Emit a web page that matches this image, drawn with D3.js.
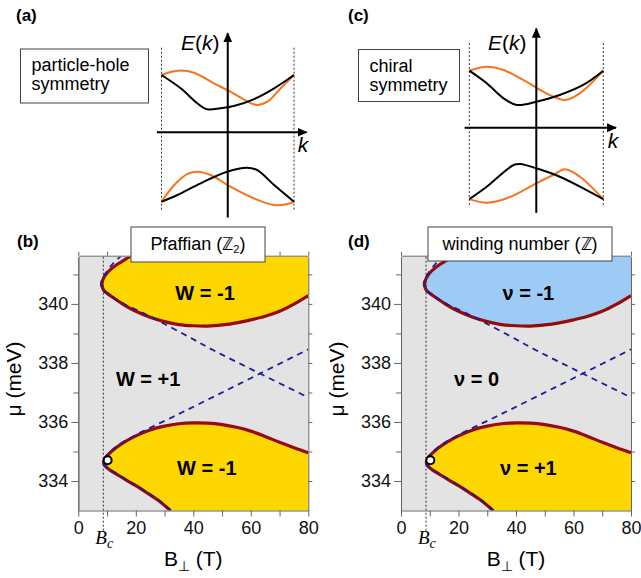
<!DOCTYPE html>
<meta charset="utf-8">
<style>
body { margin: 0; background: #fff; }
svg { display: block; font-family: "Liberation Sans", Arial, Helvetica, sans-serif; }
.axis path, .axis line { stroke: #666; stroke-width: 1; }
.axis text { font-size: 18px; fill: #111; }
</style>
<svg width="641" height="578"></svg>
<script src="https://d3js.org/d3.v7.min.js"></script>
<script>
// ---- data ----
// phase diagram axes
var bTicks = [0, 10, 20, 30, 40, 50, 60, 70, 80];
var bLabels = [0, 20, 40, 60, 80];
var muMajor = [334, 336, 338, 340];
var muMinor = [335, 337, 339, 341];
var bRange = [0, 80], muRange = [333, 341.6];
var Bc = 8.7;
var critPoint = [10.2, 334.7];

// phase boundaries (B in T, mu in meV)
var upperBoundary = [[18.5, 341.65], [16.5, 341.52], [14, 341.37], [12, 341.23], [10, 341.05], [8.7, 340.86],
  [8.2, 340.67], [8.8, 340.47], [10, 340.36], [12, 340.22], [16, 339.96], [20, 339.75], [25, 339.55],
  [30, 339.4], [35, 339.3], [40, 339.26], [45, 339.25], [50, 339.29], [55, 339.36], [60, 339.46],
  [65, 339.58], [70, 339.75], [75, 339.99], [80, 340.28]];
var lowerBoundary = [[32, 333.0], [28, 333.33], [24, 333.59], [20, 333.84], [16, 334.07], [13, 334.25],
  [11, 334.37], [9.6, 334.48], [8.8, 334.63], [9.6, 334.8], [11, 334.95], [13, 335.12], [16, 335.32],
  [20, 335.53], [25, 335.73], [30, 335.86], [35, 335.94], [40, 335.97], [45, 335.96], [50, 335.91],
  [55, 335.82], [60, 335.69], [65, 335.51], [70, 335.31], [75, 335.13], [80, 334.96]];
// dashed (approximate) boundaries
var upperDash = [[15.2, 341.65], [12, 341.36], [9.6, 341.06], [8.3, 340.84], [7.9, 340.68], [8.3, 340.5],
  [10, 340.36], [13, 340.17], [17, 339.94], [22, 339.72], [36.6, 338.98], [48, 338.38], [63.2, 337.64], [80, 336.83]];
var lowerDash = [[32.2, 333.0], [28, 333.35], [24, 333.61], [20, 333.86], [16, 334.09], [13, 334.27],
  [11, 334.39], [9.4, 334.49], [8.5, 334.64], [9.4, 334.82], [11, 334.98], [13, 335.15], [20, 335.56],
  [33.7, 336.21], [48, 336.9], [63.2, 337.64], [80, 338.46]];

// region labels [text, B, mu]
var labelsB = [["W = -1", 44.1, 340.36], ["W = +1", 24.3, 337.45], ["W = -1", 44.7, 334.43]];
var labelsD = [["\u03bd = -1", 44.3, 340.36], ["\u03bd = 0", 26.3, 337.45], ["\u03bd = +1", 44.3, 334.43]];

// schematic bands [k, E]
var aUpperBlack = [[-1, 0.955], [-0.71, 0.733], [-0.46, 0.483], [-0.31, 0.383], [-0.11, 0.4], [0.09, 0.438], [0.39, 0.55], [0.70, 0.733], [1, 0.955]];
var aUpperOrange = [[-1, 0.955], [-0.76, 1.027], [-0.51, 0.993], [-0.21, 0.817], [0.04, 0.677], [0.24, 0.55], [0.44, 0.455], [0.6, 0.51], [0.8, 0.733], [1, 0.955]];
var aLowerBlack = [[-1, -1.157], [-0.76, -1.045], [-0.41, -0.85], [-0.01, -0.657], [0.29, -0.59], [0.44, -0.628], [0.7, -0.878], [1, -1.157]];
var aLowerOrange = [[-1, -1.157], [-0.8, -0.87], [-0.6, -0.69], [-0.46, -0.657], [-0.26, -0.712], [0.04, -0.907], [0.39, -1.1], [0.7, -1.212], [0.9, -1.195], [1, -1.157]];
var cUpperBlack = [[-1, 0.95], [-0.74, 0.74], [-0.49, 0.49], [-0.29, 0.38], [0.0, 0.433], [0.35, 0.545], [0.70, 0.712], [1, 0.95]];
var cUpperOrange = [[-1, 0.95], [-0.74, 1.017], [-0.49, 0.962], [-0.15, 0.767], [0.15, 0.573], [0.43, 0.462], [0.65, 0.573], [1, 0.95]];
var cLowerBlack = [[-1, -1.19], [-0.74, -0.983], [-0.34, -0.622], [-0.24, -0.605], [0.0, -0.677], [0.35, -0.817], [0.70, -1.01], [1, -1.19]];
var cLowerOrange = [[-1, -1.19], [-0.74, -1.25], [-0.44, -1.176], [0.0, -0.927], [0.25, -0.788], [0.43, -0.693], [0.65, -0.817], [1, -1.19]];

var orange = "#f7731c", gold = "#ffd700", lightBlue = "#9ecbf5", gray = "#e3e3e3",
    boundaryColor = "#960a0a", dashColor = "#1c1c9c";

var svg = d3.select("svg");

svg.append("defs").append("marker")
    .attr("id", "arrow")
    .attr("viewBox", "0 0 10 10")
    .attr("refX", 9).attr("refY", 5)
    .attr("markerWidth", 5).attr("markerHeight", 5)
    .attr("markerUnits", "strokeWidth")
    .attr("orient", "auto")
  .append("path").attr("d", "M0,0.5L10,5L0,9.5Z").attr("fill", "#000");

// panel letters
[["(a)", 16, 21], ["(b)", 17, 247], ["(c)", 348, 21], ["(d)", 348, 247]].forEach(function(p) {
  svg.append("text").attr("x", p[1]).attr("y", p[2])
    .attr("font-size", 17).attr("font-weight", "bold").text(p[0]);
});

// ---- top schematics ----
function bands(opt) {
  var k = d3.scaleLinear().domain([-1, 1]).range([opt.left, opt.right]);
  var E = d3.scaleLinear().domain([0, 1]).range([opt.zero, opt.zero - 60]);
  var g = svg.append("g");

  // dotted zone boundaries
  [-1, 1].forEach(function(v) {
    g.append("line").attr("x1", k(v)).attr("x2", k(v))
      .attr("y1", E(1.41)).attr("y2", E(-1.3))
      .attr("stroke", "#333").attr("stroke-width", 1).attr("stroke-dasharray", "2,2");
  });

  var line = d3.line().x(function(d) { return k(d[0]); }).y(function(d) { return E(d[1]); })
      .curve(d3.curveCatmullRom.alpha(0.5));
  opt.curves.forEach(function(c) {
    g.append("path").attr("d", line(c[0])).attr("fill", "none")
      .attr("stroke", c[1]).attr("stroke-width", 2);
  });

  // axes with arrows
  g.append("line").attr("x1", k(0)).attr("x2", k(0)).attr("y1", E(-1.42)).attr("y2", E(1.65))
    .attr("stroke", "#000").attr("stroke-width", 2).attr("marker-end", "url(#arrow)");
  g.append("line").attr("x1", k(-1.07)).attr("x2", k(1.19)).attr("y1", E(0)).attr("y2", E(0))
    .attr("stroke", "#000").attr("stroke-width", 2).attr("marker-end", "url(#arrow)");

  var t = g.append("text").attr("x", opt.eLabelX).attr("y", 50).attr("font-size", 21);
  t.append("tspan").attr("font-style", "italic").text("E");
  t.append("tspan").text("(");
  t.append("tspan").attr("font-style", "italic").text("k");
  t.append("tspan").text(")");
  g.append("text").attr("x", opt.kLabelX).attr("y", opt.kLabelY).attr("font-size", 21)
    .attr("font-style", "italic").attr("text-anchor", "middle").text("k");

  // description box
  g.append("rect").attr("x", opt.box[0]).attr("y", opt.box[1]).attr("width", opt.box[2]).attr("height", opt.box[3])
    .attr("fill", "#fff").attr("stroke", "#444").attr("stroke-width", 1);
  opt.boxText.forEach(function(s, i) {
    g.append("text").attr("x", opt.box[0] + 11).attr("y", opt.box[1] + 22 + i * 19)
      .attr("font-size", 18).text(s);
  });
}

bands({ left: 161.5, right: 294, zero: 132.3, eLabelX: 181, kLabelX: 303, kLabelY: 152,
  box: [20.5, 49, 128, 54], boxText: ["particle-hole", "symmetry"],
  curves: [[aUpperOrange, orange], [aLowerOrange, orange], [aUpperBlack, "#000"], [aLowerBlack, "#000"]] });
bands({ left: 469.3, right: 603.3, zero: 127.7, eLabelX: 488, kLabelX: 613, kLabelY: 148,
  box: [358.5, 49.5, 101, 52], boxText: ["chiral", "symmetry"],
  curves: [[cUpperOrange, orange], [cLowerOrange, orange], [cUpperBlack, "#000"], [cLowerBlack, "#000"]] });

// ---- phase diagrams ----
function phase(opt) {
  var x = d3.scaleLinear().domain(bRange).range([opt.left, opt.left + 230]);
  var y = d3.scaleLinear().domain(muRange).range([510.5, 256.7]);
  var g = svg.append("g");
  var clipId = "clip" + opt.id;

  g.append("clipPath").attr("id", clipId).append("rect")
    .attr("x", x(0)).attr("y", y(muRange[1])).attr("width", x(80) - x(0)).attr("height", y(muRange[0]) - y(muRange[1]));

  var body = g.append("g").attr("clip-path", "url(#" + clipId + ")");
  body.append("rect").attr("x", x(0)).attr("y", y(muRange[1]))
    .attr("width", x(80) - x(0)).attr("height", y(muRange[0]) - y(muRange[1])).attr("fill", gray);

  var line = d3.line().x(function(d) { return x(d[0]); }).y(function(d) { return y(d[1]); })
      .curve(d3.curveCatmullRom.alpha(0.5));

  // filled topological regions
  body.append("path")
    .attr("d", line(upperBoundary) + "L" + x(81) + "," + y(340.28) + "L" + x(81) + "," + y(342) + "L" + x(18.5) + "," + y(342) + "Z")
    .attr("fill", opt.upperFill);
  body.append("path")
    .attr("d", line(lowerBoundary) + "L" + x(81) + "," + y(334.96) + "L" + x(81) + "," + y(332.5) + "L" + x(32) + "," + y(332.5) + "Z")
    .attr("fill", opt.lowerFill);

  // B_c marker line
  g.append("line").attr("x1", x(Bc)).attr("x2", x(Bc)).attr("y1", y(muRange[1])).attr("y2", 531)
    .attr("stroke", "#333").attr("stroke-width", 1).attr("stroke-dasharray", "2,2");

  [upperBoundary, lowerBoundary].forEach(function(c) {
    body.append("path").attr("d", line(c)).attr("fill", "none")
      .attr("stroke", boundaryColor).attr("stroke-width", 3.2);
  });
  [upperDash, lowerDash].forEach(function(c) {
    body.append("path").attr("d", line(c)).attr("fill", "none")
      .attr("stroke", dashColor).attr("stroke-width", 1.8).attr("stroke-dasharray", "6,5");
  });

  g.append("circle").attr("cx", x(critPoint[0])).attr("cy", y(critPoint[1])).attr("r", 4)
    .attr("fill", "#fff").attr("stroke", "#000").attr("stroke-width", 2);

  opt.labels.forEach(function(l) {
    g.append("text").attr("x", x(l[1])).attr("y", y(l[2])).attr("dy", "0.36em")
      .attr("text-anchor", "middle").attr("font-size", 20).attr("font-weight", "bold").text(l[0]);
  });

  // frame axes
  g.append("g").attr("class", "axis").attr("transform", "translate(" + x(0) + ",0)")
    .call(d3.axisLeft(y).tickValues(muMajor).tickSize(7).tickSizeOuter(0).tickPadding(3).tickFormat(d3.format("d")));
  g.append("g").attr("class", "axis").attr("transform", "translate(" + x(0) + ",0)")
    .call(d3.axisLeft(y).tickValues(muMinor).tickSize(5).tickSizeOuter(0).tickFormat(""));
  g.append("g").attr("class", "axis").attr("transform", "translate(" + x(80) + ",0)")
    .call(d3.axisRight(y).tickValues(muMajor.concat(muMinor)).tickSize(4).tickSizeOuter(0).tickFormat(""));
  g.append("g").attr("class", "axis").attr("transform", "translate(0," + y(muRange[0]) + ")")
    .call(d3.axisBottom(x).tickValues(bTicks).tickSize(6).tickSizeOuter(0).tickPadding(5)
      .tickFormat(function(d) { return bLabels.indexOf(d) >= 0 ? d : ""; }));
  g.append("g").attr("class", "axis").attr("transform", "translate(0," + (y(muRange[1]) - 1) + ")")
    .call(d3.axisTop(x).tickValues(bTicks).tickSize(4).tickSizeOuter(0).tickFormat(""));

  // axis titles
  g.append("text").attr("transform", "translate(" + (opt.left - 57) + ",379) rotate(-90)")
    .attr("text-anchor", "middle").attr("font-size", 21).text("\u03bc (meV)");
  var xt = g.append("text").attr("x", x(40)).attr("y", 566).attr("text-anchor", "middle").attr("font-size", 21);
  xt.append("tspan").text("B");
  xt.append("tspan").attr("font-size", 14).attr("dy", 5).text("\u22a5");
  xt.append("tspan").attr("dy", -5).text(" (T)");

  var bc = g.append("text").attr("x", x(Bc) - 8).attr("y", 544)
    .attr("font-family", "'Liberation Serif', 'DejaVu Serif', serif").attr("font-style", "italic").attr("font-size", 19);
  bc.append("tspan").text("B");
  bc.append("tspan").attr("font-size", 14).attr("dy", 4).text("c");

  // invariant box
  g.append("rect").attr("x", opt.box[0]).attr("y", opt.box[1]).attr("width", opt.box[2]).attr("height", opt.box[3])
    .attr("fill", "#fff").attr("stroke", "#444").attr("stroke-width", 1);
  var bt = g.append("text").attr("x", opt.box[0] + opt.box[2] / 2).attr("y", opt.box[1] + 23)
    .attr("text-anchor", "middle").attr("font-size", 18);
  bt.append("tspan").text(opt.boxText);
  if (opt.boxSub) {
    bt.append("tspan").attr("font-size", 11).attr("dy", 3).text(opt.boxSub);
    bt.append("tspan").attr("dy", -3).text(")");
  }
}

phase({ id: "b", left: 78.3, upperFill: gold, lowerFill: gold, labels: labelsB,
  box: [131, 227, 134, 35], boxText: "Pfaffian (\u2124", boxSub: "2" });
phase({ id: "d", left: 401, upperFill: lightBlue, lowerFill: gold, labels: labelsD,
  box: [428, 227, 184, 34], boxText: "winding number (\u2124)" });
</script>
